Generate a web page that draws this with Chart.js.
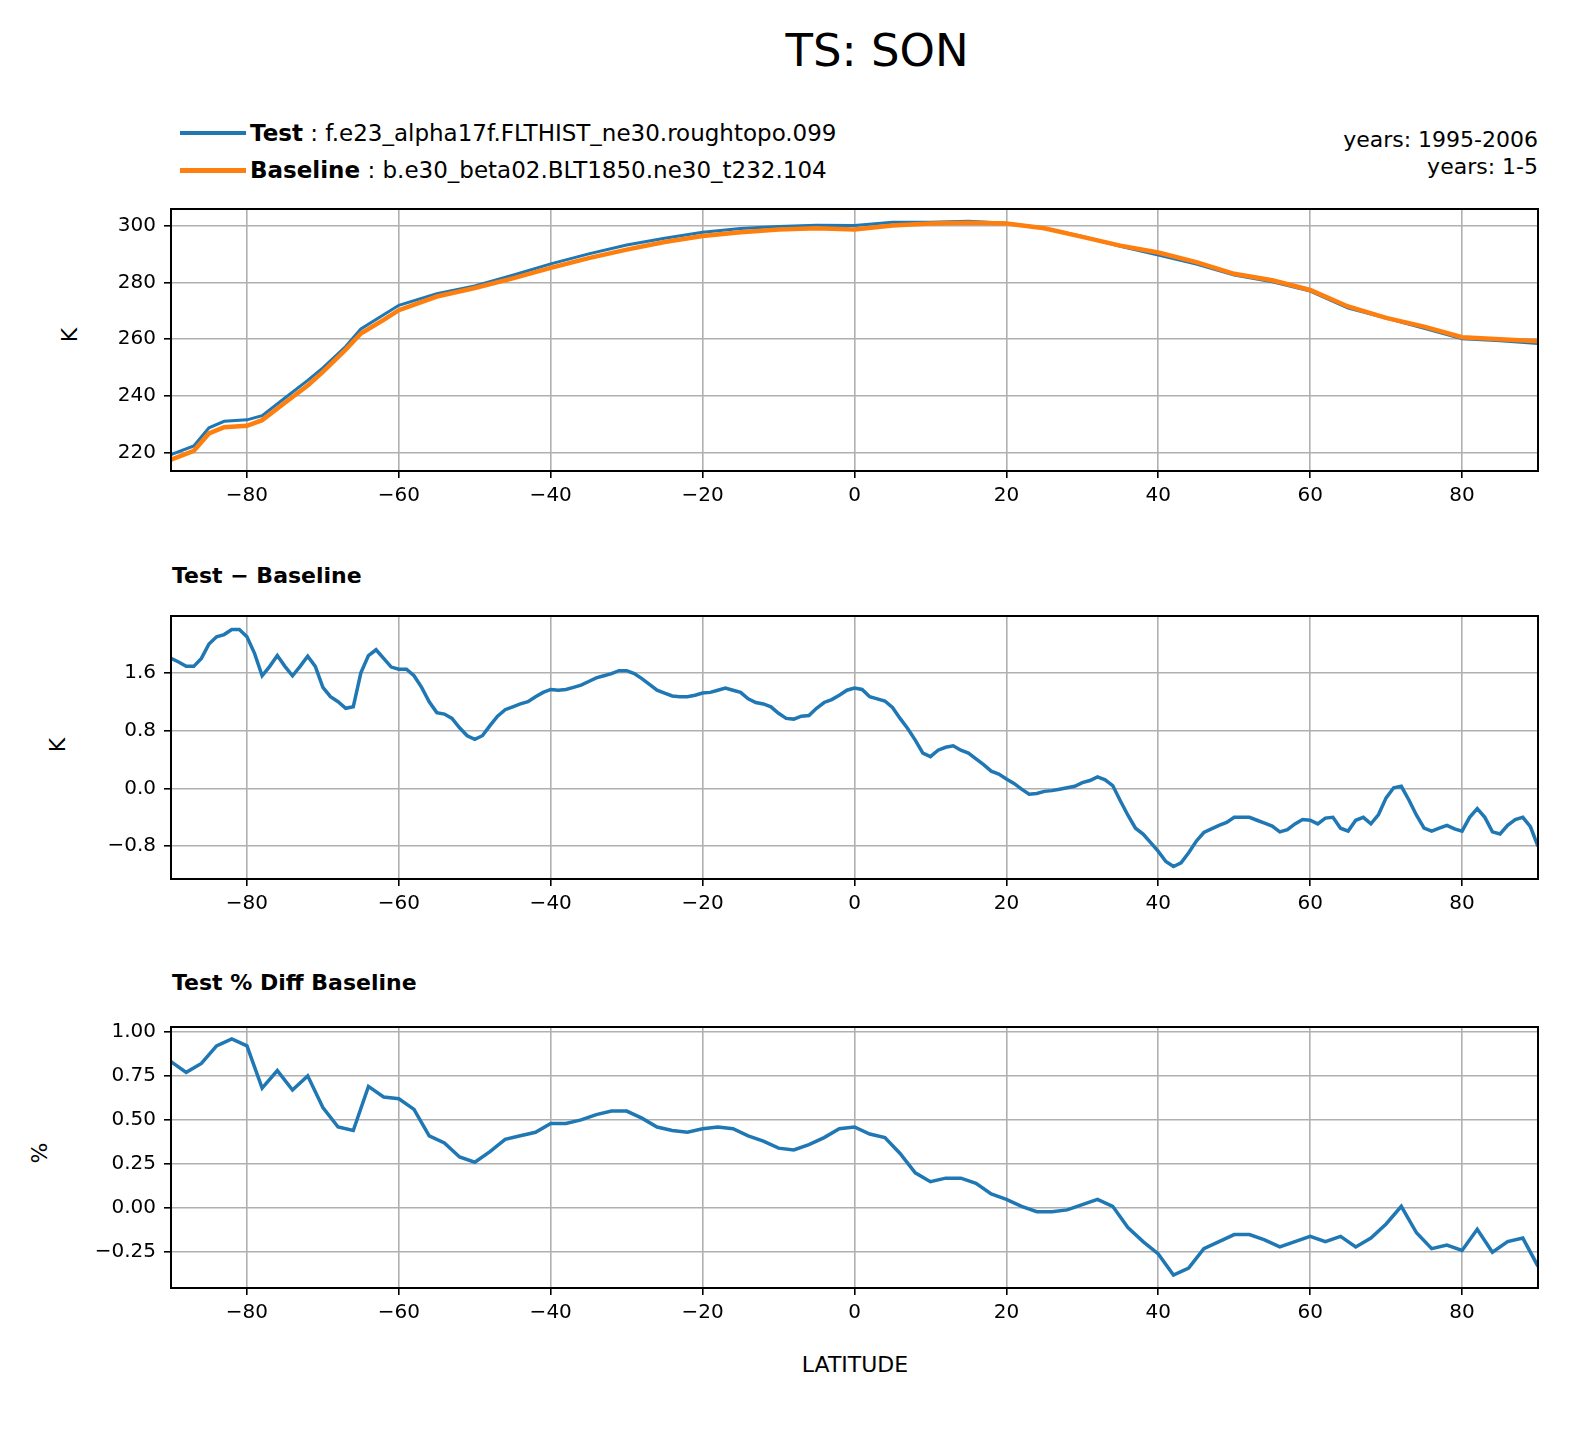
<!DOCTYPE html>
<html style="overflow:hidden"><head><meta charset="utf-8">
<script src="https://cdn.jsdelivr.net/npm/chart.js@4"></script>
<style>
body{margin:0;width:1596px;height:1433px;background:#fff;font-family:"DejaVu Sans",sans-serif;position:relative;overflow:hidden}
.abs{position:absolute;white-space:nowrap;color:#000;line-height:28px}
.cw{position:absolute;left:0;width:1596px}
.rot{position:absolute;font-size:22px;transform:translate(-50%,-50%) rotate(-90deg);line-height:24px}
</style></head><body>
<div class="abs" style="left:0;width:1754px;top:24px;text-align:center;font-size:45px;line-height:54px">TS: SON</div>
<div class="abs" style="left:180px;top:131px;width:66px;height:4px;background:#1f77b4"></div>
<div class="abs" style="left:250px;top:119px;font-size:23px"><b>Test</b> : f.e23_alpha17f.FLTHIST_ne30.roughtopo.099</div>
<div class="abs" style="left:180px;top:168px;width:66px;height:5px;background:#ff7f0e"></div>
<div class="abs" style="left:250px;top:156px;font-size:23px"><b>Baseline</b> : b.e30_beta02.BLT1850.ne30_t232.104</div>
<div class="abs" style="right:58px;top:126px;font-size:22px;text-align:right;line-height:27px">years: 1995-2006<br>years: 1-5</div>
<div class="abs" style="left:172px;top:562px;font-size:22px;font-weight:bold">Test − Baseline</div>
<div class="abs" style="left:172px;top:969px;font-size:22px;font-weight:bold">Test % Diff Baseline</div>
<div class="abs" style="left:0;width:1710px;top:1351px;text-align:center;font-size:22px">LATITUDE</div>
<div class="rot" style="left:70px;top:335px">K</div>
<div class="rot" style="left:58px;top:745px">K</div>
<div class="rot" style="left:40px;top:1153px">%</div>
<div class="cw" style="top:189px;height:322px"><canvas id="c1"></canvas></div>
<div class="cw" style="top:596px;height:323px"><canvas id="c2"></canvas></div>
<div class="cw" style="top:1007px;height:321px"><canvas id="c3"></canvas></div>
<script>
const latT=[-90,-87,-85,-83,-80,-78,-75,-72,-70,-67,-65,-62,-60,-55,-50,-45,-40,-35,-30,-25,-20,-15,-10,-5,0,5,10,15,20,25,30,35,40,45,50,55,60,65,70,75,80,85,90];
const baseline=[217.6,220.7,226.8,229,229.5,231.5,237.6,243.7,248.5,256.3,262,266.8,270.2,275,278,281.4,285.1,288.5,291.5,294.2,296.3,297.6,298.6,299,298.6,300,300.7,301,300.7,299,296,292.9,290.5,287.1,283,280.7,277.3,271.5,267.5,264.4,260.7,260,259.3];
const test=[219.4,222.4,228.8,231.1,231.6,233.1,239.3,245.5,249.9,257.4,263.6,268.6,271.9,276,278.7,282.5,286.5,290,293.1,295.5,297.6,298.9,299.6,300.1,300,301.1,301.1,301.5,300.8,299,296.1,292.7,289.6,286.4,282.6,280.2,276.9,270.9,267.4,263.8,260.1,259.4,258.5];
const latD=[];for(let i=-90;i<=90;i++)latD.push(i);
const diff=[1.8,1.75,1.69,1.69,1.8,2.0,2.1,2.13,2.2,2.2,2.1,1.87,1.56,1.69,1.84,1.69,1.56,1.69,1.83,1.69,1.4,1.27,1.2,1.11,1.13,1.6,1.84,1.92,1.8,1.68,1.65,1.65,1.56,1.4,1.2,1.05,1.03,0.97,0.84,0.73,0.68,0.73,0.87,1.0,1.09,1.13,1.17,1.2,1.27,1.33,1.37,1.36,1.37,1.4,1.43,1.48,1.53,1.56,1.59,1.63,1.63,1.59,1.52,1.44,1.36,1.32,1.28,1.27,1.27,1.29,1.32,1.33,1.36,1.39,1.36,1.33,1.24,1.19,1.17,1.13,1.04,0.97,0.96,1.0,1.01,1.11,1.19,1.23,1.29,1.36,1.39,1.37,1.27,1.24,1.21,1.12,0.97,0.83,0.67,0.49,0.44,0.53,0.57,0.59,0.53,0.49,0.41,0.33,0.24,0.2,0.13,0.07,-0.01,-0.08,-0.07,-0.04,-0.03,-0.01,0.01,0.03,0.08,0.11,0.16,0.12,0.04,-0.17,-0.37,-0.55,-0.63,-0.75,-0.87,-1.01,-1.08,-1.03,-0.89,-0.73,-0.61,-0.56,-0.51,-0.47,-0.4,-0.4,-0.4,-0.44,-0.48,-0.52,-0.6,-0.57,-0.49,-0.43,-0.44,-0.49,-0.41,-0.4,-0.55,-0.59,-0.44,-0.4,-0.49,-0.36,-0.13,0.01,0.03,-0.16,-0.37,-0.55,-0.59,-0.55,-0.51,-0.56,-0.59,-0.4,-0.28,-0.4,-0.6,-0.63,-0.51,-0.43,-0.4,-0.53,-0.8];
const latP=[];for(let i=-90;i<=90;i+=2)latP.push(i);
const pct=[0.83,0.77,0.82,0.92,0.96,0.92,0.68,0.78,0.67,0.75,0.57,0.46,0.44,0.69,0.63,0.62,0.56,0.41,0.37,0.29,0.26,0.32,0.39,0.41,0.43,0.48,0.48,0.50,0.53,0.55,0.55,0.51,0.46,0.44,0.43,0.45,0.46,0.45,0.41,0.38,0.34,0.33,0.36,0.40,0.45,0.46,0.42,0.40,0.31,0.20,0.15,0.17,0.17,0.14,0.08,0.05,0.01,-0.02,-0.02,-0.01,0.02,0.05,0.01,-0.11,-0.19,-0.26,-0.38,-0.34,-0.23,-0.19,-0.15,-0.15,-0.18,-0.22,-0.19,-0.16,-0.19,-0.16,-0.22,-0.17,-0.09,0.01,-0.14,-0.23,-0.21,-0.24,-0.12,-0.25,-0.19,-0.17,-0.33];
const xTicks=[-80,-60,-40,-20,0,20,40,60,80];
const yT1=[220,240,260,280,300],yT2=[-0.8,0,0.8,1.6],yT3=[-0.25,0,0.25,0.5,0.75,1.0];

Chart.defaults.font.family='"DejaVu Sans", sans-serif';
Chart.defaults.color='#000';
const pts=(xs,ys)=>xs.map((x,i)=>({x,y:ys[i]}));
function mk(id,datasets,ymin,ymax,yt,dec){
  new Chart(document.getElementById(id),{type:'line',data:{datasets},
  options:{responsive:true,maintainAspectRatio:false,animation:false,
   layout:{padding:{left:71,right:58,top:10,bottom:0}},
   plugins:{legend:{display:false},tooltip:{enabled:false}},
   elements:{point:{radius:0},line:{tension:0}},
   scales:{
    x:{type:'linear',min:-90,max:90,afterBuildTicks:a=>{a.ticks=xTicks.map(v=>({value:v}))},
       afterFit:a=>{a.height=40},
       ticks:{font:{size:20},padding:6,callback:v=>String(v).replace('-','−')},
       grid:{color:'#b0b0b0',lineWidth:1.6,tickLength:7,tickColor:'#000'},border:{color:'#000',width:2}},
    y:{min:ymin,max:ymax,afterBuildTicks:a=>{a.ticks=yt.map(v=>({value:v}))},
       afterFit:a=>{a.width=100},
       ticks:{font:{size:20},padding:8,callback:v=>v.toFixed(dec).replace('-','−')},
       grid:{color:'#b0b0b0',lineWidth:1.6,tickLength:7,tickColor:'#000'},border:{color:'#000',width:2}}
   }},
   plugins:[{id:'frame',afterDraw(c){const a=c.chartArea,x=c.ctx;x.save();x.strokeStyle='#000';x.lineWidth=2;x.strokeRect(a.left,a.top,a.right-a.left,a.bottom-a.top);x.restore();}}]
  });
}
mk('c1',[
 {data:pts(latT,baseline),borderColor:'#ff7f0e',borderWidth:4.5,order:0},
 {data:pts(latT,test),borderColor:'#1f77b4',borderWidth:3,order:1}],213.6,305.8,yT1,0);
mk('c2',[{data:pts(latD,diff),borderColor:'#1f77b4',borderWidth:3.5}],-1.253,2.387,yT2,1);
mk('c3',[{data:pts(latP,pct),borderColor:'#1f77b4',borderWidth:3.5}],-0.453,1.027,yT3,2);
</script></body></html>
